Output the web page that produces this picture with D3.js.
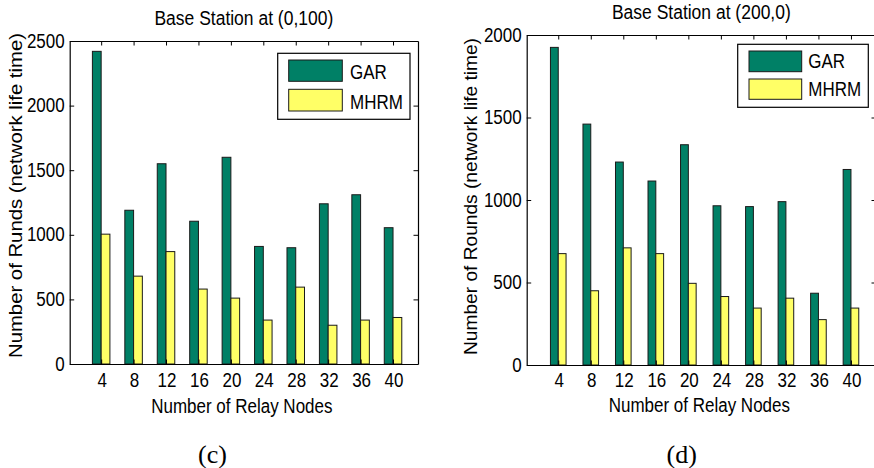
<!DOCTYPE html>
<html>
<head>
<meta charset="utf-8">
<script src="https://cdn.jsdelivr.net/npm/d3@7"></script>
<style>
  html, body { margin: 0; padding: 0; background: #fff; }
  svg { display: block; }
  text { fill: #000; }
</style>
</head>
<body>
<svg id="chart" width="874" height="468"></svg>
<script>
// ---------- data ----------
const categories = [4, 8, 12, 16, 20, 24, 28, 32, 36, 40];
const seriesNames = ["GAR", "MHRM"];
const garC  = [2420, 1190, 1550, 1105, 1600, 910, 900, 1240, 1310, 1055];
const mhrmC = [1005, 680, 870, 580, 510, 340, 595, 300, 340, 360];
const garD  = [1925, 1460, 1230, 1115, 1335, 965, 960, 990, 435, 1185];
const mhrmD = [675, 450, 710, 675, 495, 415, 345, 405, 275, 345];
const yTicksC = [0, 500, 1000, 1500, 2000, 2500];
const yTicksD = [0, 500, 1000, 1500, 2000];
const titleC = "Base Station at (0,100)";
const titleD = "Base Station at (200,0)";
const yLabelC = "Number of Runds (network life time)";
const yLabelD = "Number of Rounds (network life time)";
const xLabel = "Number of Relay Nodes";
const captions = ["(c)", "(d)"];

// ---------- styling / layout ----------
const SANS = "'Liberation Sans', Arial, Helvetica, sans-serif";
const SERIF = "'Liberation Serif', 'Times New Roman', serif";
const colors = ["#008066", "#ffff66"];
const SY = 1.15; // vertical stretch of the original figure's text
const svg = d3.select("#chart");
svg.append("rect").attr("width", 874).attr("height", 468).attr("fill", "#fff");

const panels = [
  { left: 69.7, right: 418, top: 41, bottom: 364, ymax: 2500, yTicks: yTicksC,
    gar: garC, mhrm: mhrmC, barFrac: 0.27, title: titleC, titleY: 25,
    yLabel: yLabelC, yLabelX: 21.5, yLabelCY: 195.5, yLabelLen: 325,
    xLabelY: 413, xTickDY: 23, caption: captions[0], capX: 212.5,
    legend: { x0: 277.7, y0: 53.3, x1: 410, y1: 119.3, sx0: 288.7, sx1: 342.3,
              rows: [[60, 81.3], [89.3, 111]], tx: 350, ty: [79, 109] } },
  { left: 526.7, right: 876, top: 35, bottom: 365, ymax: 2000, yTicks: yTicksD,
    gar: garD, mhrm: mhrmD, barFrac: 0.24, title: titleD, titleY: 19,
    yLabel: yLabelD, yLabelX: 477, yLabelCY: 196.5, yLabelLen: 317,
    xLabelY: 411.7, xTickDY: 22, caption: captions[1], capX: 681.7,
    legend: { x0: 737.7, y0: 44.3, x1: 868.3, y1: 107.3, sx0: 749, sx1: 801.7,
              rows: [[51, 71.7], [79, 99.3]], tx: 808.3, ty: [68, 96] } }
];

function stretchedText(g, x, y, s, size, anchor) {
  return g.append("text")
    .attr("transform", `translate(${x},${y}) scale(1,${SY})`)
    .attr("text-anchor", anchor || "middle")
    .style("font-family", SANS)
    .attr("font-size", size)
    .text(s);
}

panels.forEach(p => {
  const g = svg.append("g");
  const idx = categories.map((c, i) => i + 1);
  const x = d3.scaleLinear().domain([0.03, 10.77]).range([p.left, p.right]);
  const y = d3.scaleLinear().domain([0, p.ymax]).range([p.bottom, p.top]);
  const bw = x(1 + p.barFrac) - x(1);

  // bars
  const groups = [p.gar, p.mhrm];
  groups.forEach((vals, s) => {
    g.selectAll(null).data(vals).enter().append("rect")
      .attr("x", (d, i) => s === 0 ? x(idx[i]) - bw : x(idx[i]))
      .attr("y", d => y(d))
      .attr("width", bw)
      .attr("height", d => y(0) - y(d))
      .attr("fill", colors[s])
      .attr("stroke", "#1a1a1a")
      .attr("stroke-width", 1);
  });

  // axes box
  const axL = g.append("g").attr("transform", `translate(${p.left},0)`)
    .call(d3.axisLeft(y).tickValues(p.yTicks).tickSizeInner(-4.5).tickSizeOuter(0).tickFormat(""));
  const axR = g.append("g").attr("transform", `translate(${p.right},0)`)
    .call(d3.axisRight(y).tickValues(p.yTicks).tickSizeInner(-4.5).tickSizeOuter(0).tickFormat(""));
  const axB = g.append("g").attr("transform", `translate(0,${p.bottom})`)
    .call(d3.axisBottom(x).tickValues(idx).tickSizeInner(-4.5).tickSizeOuter(0).tickFormat(""));
  const axT = g.append("g").attr("transform", `translate(0,${p.top})`)
    .call(d3.axisTop(x).tickValues(idx).tickSizeInner(-4.5).tickSizeOuter(0).tickFormat(""));
  [axL, axR, axB, axT].forEach(a => {
    a.selectAll("path").attr("stroke", "#000").attr("stroke-width", 1.2);
    a.selectAll("line").attr("stroke", "#000").attr("stroke-width", 1);
  });

  // tick labels
  p.yTicks.forEach(t => stretchedText(g, p.left - 5, y(t) + 6.5, String(t), 17, "end"));
  categories.forEach((c, i) => stretchedText(g, x(idx[i]) + 1, p.bottom + p.xTickDY, String(c), 17, "middle"));

  // title + x label
  stretchedText(g, (p.left + p.right) / 2, p.titleY, p.title, 17.5, "middle");
  stretchedText(g, (p.left + p.right) / 2 - 2, p.xLabelY, xLabel, 17, "middle");

  // y label (rotated)
  g.append("text")
    .attr("transform", `translate(${p.yLabelX},${p.yLabelCY}) rotate(-90)`)
    .attr("text-anchor", "middle")
    .style("font-family", SANS)
    .attr("font-size", 18.5)
    .attr("textLength", p.yLabelLen)
    .attr("lengthAdjust", "spacingAndGlyphs")
    .text(p.yLabel);

  // legend
  const L = p.legend;
  g.append("rect").attr("x", L.x0).attr("y", L.y0).attr("width", L.x1 - L.x0).attr("height", L.y1 - L.y0)
    .attr("fill", "#fff").attr("stroke", "#000").attr("stroke-width", 1.2);
  seriesNames.forEach((n, s) => {
    g.append("rect").attr("x", L.sx0).attr("y", L.rows[s][0])
      .attr("width", L.sx1 - L.sx0).attr("height", L.rows[s][1] - L.rows[s][0])
      .attr("fill", colors[s]).attr("stroke", "#1a1a1a").attr("stroke-width", 1);
    stretchedText(g, L.tx, L.ty[s], n, 17, "start");
  });

  // caption
  svg.append("text").attr("x", p.capX).attr("y", 462.5).attr("text-anchor", "middle")
    .style("font-family", SERIF)
    .attr("font-size", 26).text(p.caption);
});
</script>
</body>
</html>
